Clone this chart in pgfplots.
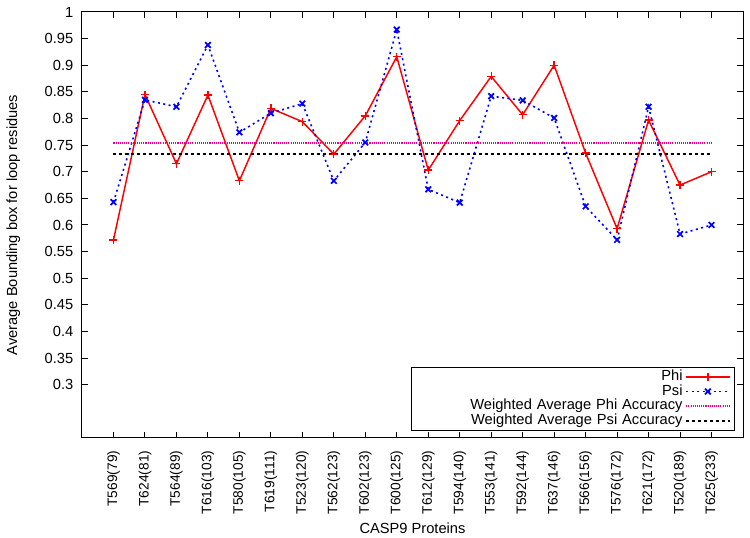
\documentclass[border=0pt]{standalone}
\usepackage{fontspec}
\setmainfont{Liberation Sans}
\usepackage{pgfplots}
\pgfplotsset{compat=1.18}
\begin{document}
\begin{tikzpicture}[font=\fontsize{11}{13.2}\selectfont]
\begin{axis}[
  at={(0,0)}, anchor=south west,
  scale only axis,
  width=495.75pt, height=319.5pt,
  xmin=-1, xmax=20, ymin=0.2, ymax=1,
  xtick={0,...,19},
  xticklabels={T569(79),T624(81),T564(89),T616(103),T580(105),T619(111),T523(120),T562(123),T602(123),T600(125),T612(129),T594(140),T553(141),T592(144),T637(146),T566(156),T576(172),T621(172),T520(189),T625(233)},
  xticklabel style={rotate=90, anchor=east, font=\fontsize{10.3}{12}\selectfont},
  xticklabel shift=6pt,
  yticklabel shift=3pt,
  ytick={0.3,0.35,0.4,0.45,0.5,0.55,0.6,0.65,0.7,0.75,0.8,0.85,0.9,0.95,1},
  /pgf/number format/assume math mode=true,
  tick align=inside,
  major tick length=4.5pt,
  axis line style={line width=0.75pt},
  every tick/.style={black, line width=0.75pt},
  xlabel={CASP9 Proteins},
  ylabel={Average Bounding box for loop residues},
  ylabel shift=11.5pt,
  legend plot pos=right,
  legend cell align=right,
  legend image code/.code={\draw[mark repeat=2,mark phase=2,#1] plot coordinates {(0cm,0cm)(0.57cm,0cm)(1.14cm,0cm)};},
  legend style={at={(0.988,0.0164)}, anchor=south east, draw=black, line width=0.75pt,
     nodes={text width=198pt, align=right, inner xsep=2pt, inner ysep=0.2pt, text height=7.9pt, text depth=2.6pt}, row sep=0pt},
]
\addplot[red, line width=1.1pt, mark=+, mark size=3pt, mark options={solid, line width=1pt}] coordinates {
(0,0.572)(1,0.845)(2,0.715)(3,0.844)(4,0.683)(5,0.819)(6,0.794)(7,0.733)(8,0.805)(9,0.916)
(10,0.703)(11,0.796)(12,0.879)(13,0.807)(14,0.900)(15,0.735)(16,0.593)(17,0.797)(18,0.675)(19,0.700)};
\addlegendentry{Phi}
\addplot[blue, line width=1.2pt, dash pattern=on 1.5pt off 2.6pt, mark=x, mark size=3pt, mark options={solid, line width=1.3pt}] coordinates {
(0,0.643)(1,0.835)(2,0.822)(3,0.938)(4,0.774)(5,0.810)(6,0.828)(7,0.683)(8,0.755)(9,0.967)
(10,0.667)(11,0.642)(12,0.842)(13,0.834)(14,0.801)(15,0.635)(16,0.572)(17,0.822)(18,0.583)(19,0.600)};
\addlegendentry{Psi}
\addplot[magenta, line width=1pt, dash pattern=on 0.8pt off 0.8pt] coordinates {(0,0.754)(19,0.754)};
\addlegendentry{Weighted Average Phi Accuracy}
\addplot[black, line width=1.6pt, dash pattern=on 1.8pt off 2.7pt] coordinates {(0,0.734)(19,0.734)};
\addlegendentry{Weighted Average Psi Accuracy}
\end{axis}
\pgfresetboundingbox
\path (-61.5pt,-75pt) rectangle (501pt,328.5pt);
\end{tikzpicture}
\end{document}
